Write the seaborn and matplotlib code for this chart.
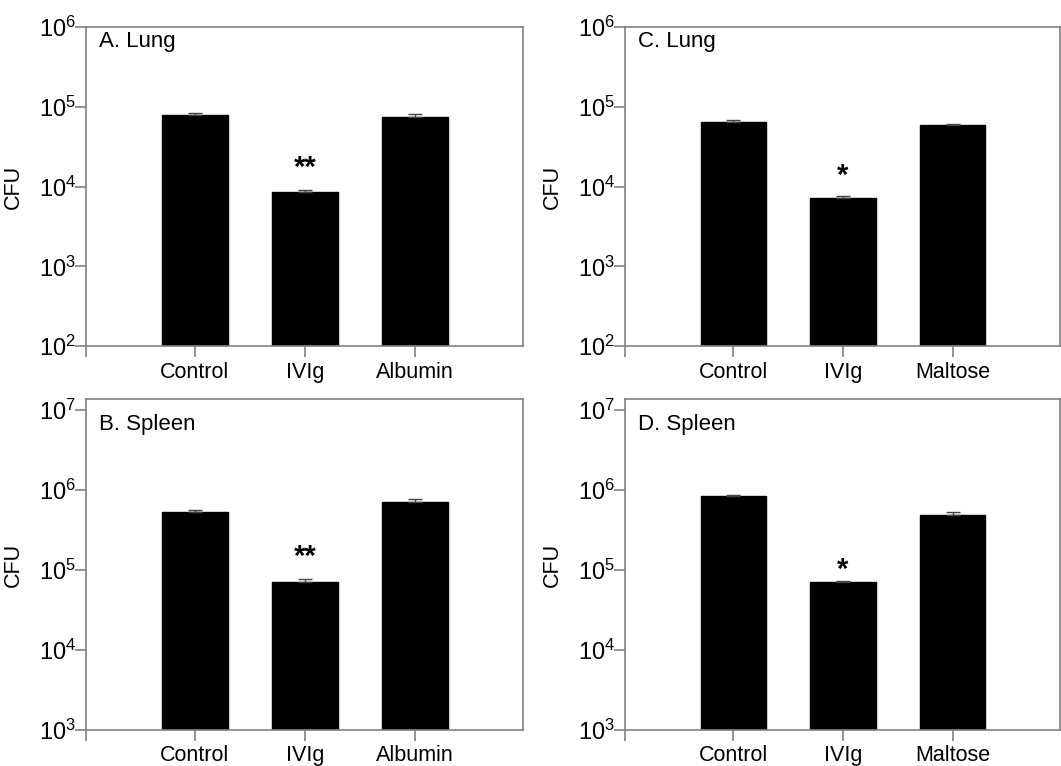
import matplotlib
matplotlib.use("Agg")
import matplotlib.pyplot as plt
import matplotlib.ticker as mticker
import seaborn as sns
import pandas as pd
import numpy as np

sns.set_style("ticks")
plt.rcParams["font.family"] = ["Liberation Sans", "DejaVu Sans"]
plt.rcParams["text.color"] = "black"
plt.rcParams["axes.labelcolor"] = "black"

# ======================
# DATA (mean CFU and upper SEM)
# ======================
groups_albumin = ["Control", "IVIg", "Albumin"]
groups_maltose = ["Control", "IVIg", "Maltose"]

lung_a = [7.9e4, 8.5e3, 7.5e4]
lung_a_err = [0.5e4, 0.5e3, 0.55e4]

spleen_b = [5.3e5, 7.2e4, 7.2e5]
spleen_b_err = [0.3e5, 0.5e4, 0.5e5]

lung_c = [6.4e4, 7.1e3, 5.9e4]
lung_c_err = [0.4e4, 0.5e3, 0.25e4]

spleen_d = [8.5e5, 7.2e4, 4.9e5]
spleen_d_err = [0.3e5, 0.2e4, 0.4e5]

stars_a = ["", "**", ""]
stars_b = ["", "**", ""]
stars_c = ["", "*", ""]
stars_d = ["", "*", ""]

panels = [
    ("A. Lung", groups_albumin, lung_a, lung_a_err, stars_a, (1e2, 1e6)),
    ("B. Spleen", groups_albumin, spleen_b, spleen_b_err, stars_b, (1e3, 10 ** 7.14)),
    ("C. Lung", groups_maltose, lung_c, lung_c_err, stars_c, (1e2, 1e6)),
    ("D. Spleen", groups_maltose, spleen_d, spleen_d_err, stars_d, (1e3, 10 ** 7.14)),
]

# ======================
# PLOTTING
# ======================
fig = plt.figure(figsize=(10.61, 7.66), dpi=100)
rects = [
    [0.081, 0.548, 0.412, 0.417],
    [0.081, 0.047, 0.412, 0.432],
    [0.589, 0.548, 0.410, 0.417],
    [0.589, 0.047, 0.410, 0.432],
]
star_offsets = [10, 10, 9, 2]
label_y = [0.953, 0.923, 0.953, 0.923]

spine_col = "#808080"
x_left, x_right = -0.99, 2.98

for i, (title, groups, vals, errs, stars, ylim) in enumerate(panels):
    ax = fig.add_axes(rects[i])
    ax.set_yscale("log")
    df = pd.DataFrame({"Group": groups, "CFU": vals})
    sns.barplot(data=df, x="Group", y="CFU", order=groups, color="black",
                edgecolor="black", width=0.6, errorbar=None, ax=ax)
    for p in ax.patches:
        p.set_facecolor("black")

    pos = np.arange(len(groups))
    ax.errorbar(pos, vals, yerr=[np.zeros(len(vals)), errs], fmt="none",
                ecolor="#444444", elinewidth=1.0, capsize=5, capthick=1.0)

    for x, v, e, s in zip(pos, vals, errs, stars):
        if s:
            ax.annotate(s, (x, v + e), xytext=(0, star_offsets[i]),
                        textcoords="offset points", ha="center", va="baseline",
                        fontsize=21, fontweight="bold", color="black")

    ax.set_ylim(*ylim)
    ax.set_xlim(x_left, x_right)
    ax.yaxis.set_major_locator(mticker.LogLocator(base=10, numticks=10))
    ax.yaxis.set_minor_locator(mticker.NullLocator())
    ax.set_xticks([x_left] + list(pos))
    ax.set_xticklabels([""] + groups)

    ax.set_xlabel("")
    ax.set_ylabel("CFU", fontsize=15.5)
    ax.yaxis.set_label_coords(-0.142, 0.5)

    for sp in ax.spines.values():
        sp.set_color(spine_col)
        sp.set_linewidth(1.2)
    ax.tick_params(axis="x", direction="out", length=8, width=1.2,
                   color=spine_col, labelcolor="black", labelsize=15.5, pad=3)
    ax.tick_params(axis="y", direction="out", length=8, width=1.2,
                   color=spine_col, labelcolor="black", labelsize=17, pad=-1)

    ax.text(0.03, label_y[i], title, transform=ax.transAxes,
            fontsize=16, ha="left", va="center", color="black")

# ======================
# SAVE
# ======================
plt.savefig("out.png", dpi=100)
plt.close()
